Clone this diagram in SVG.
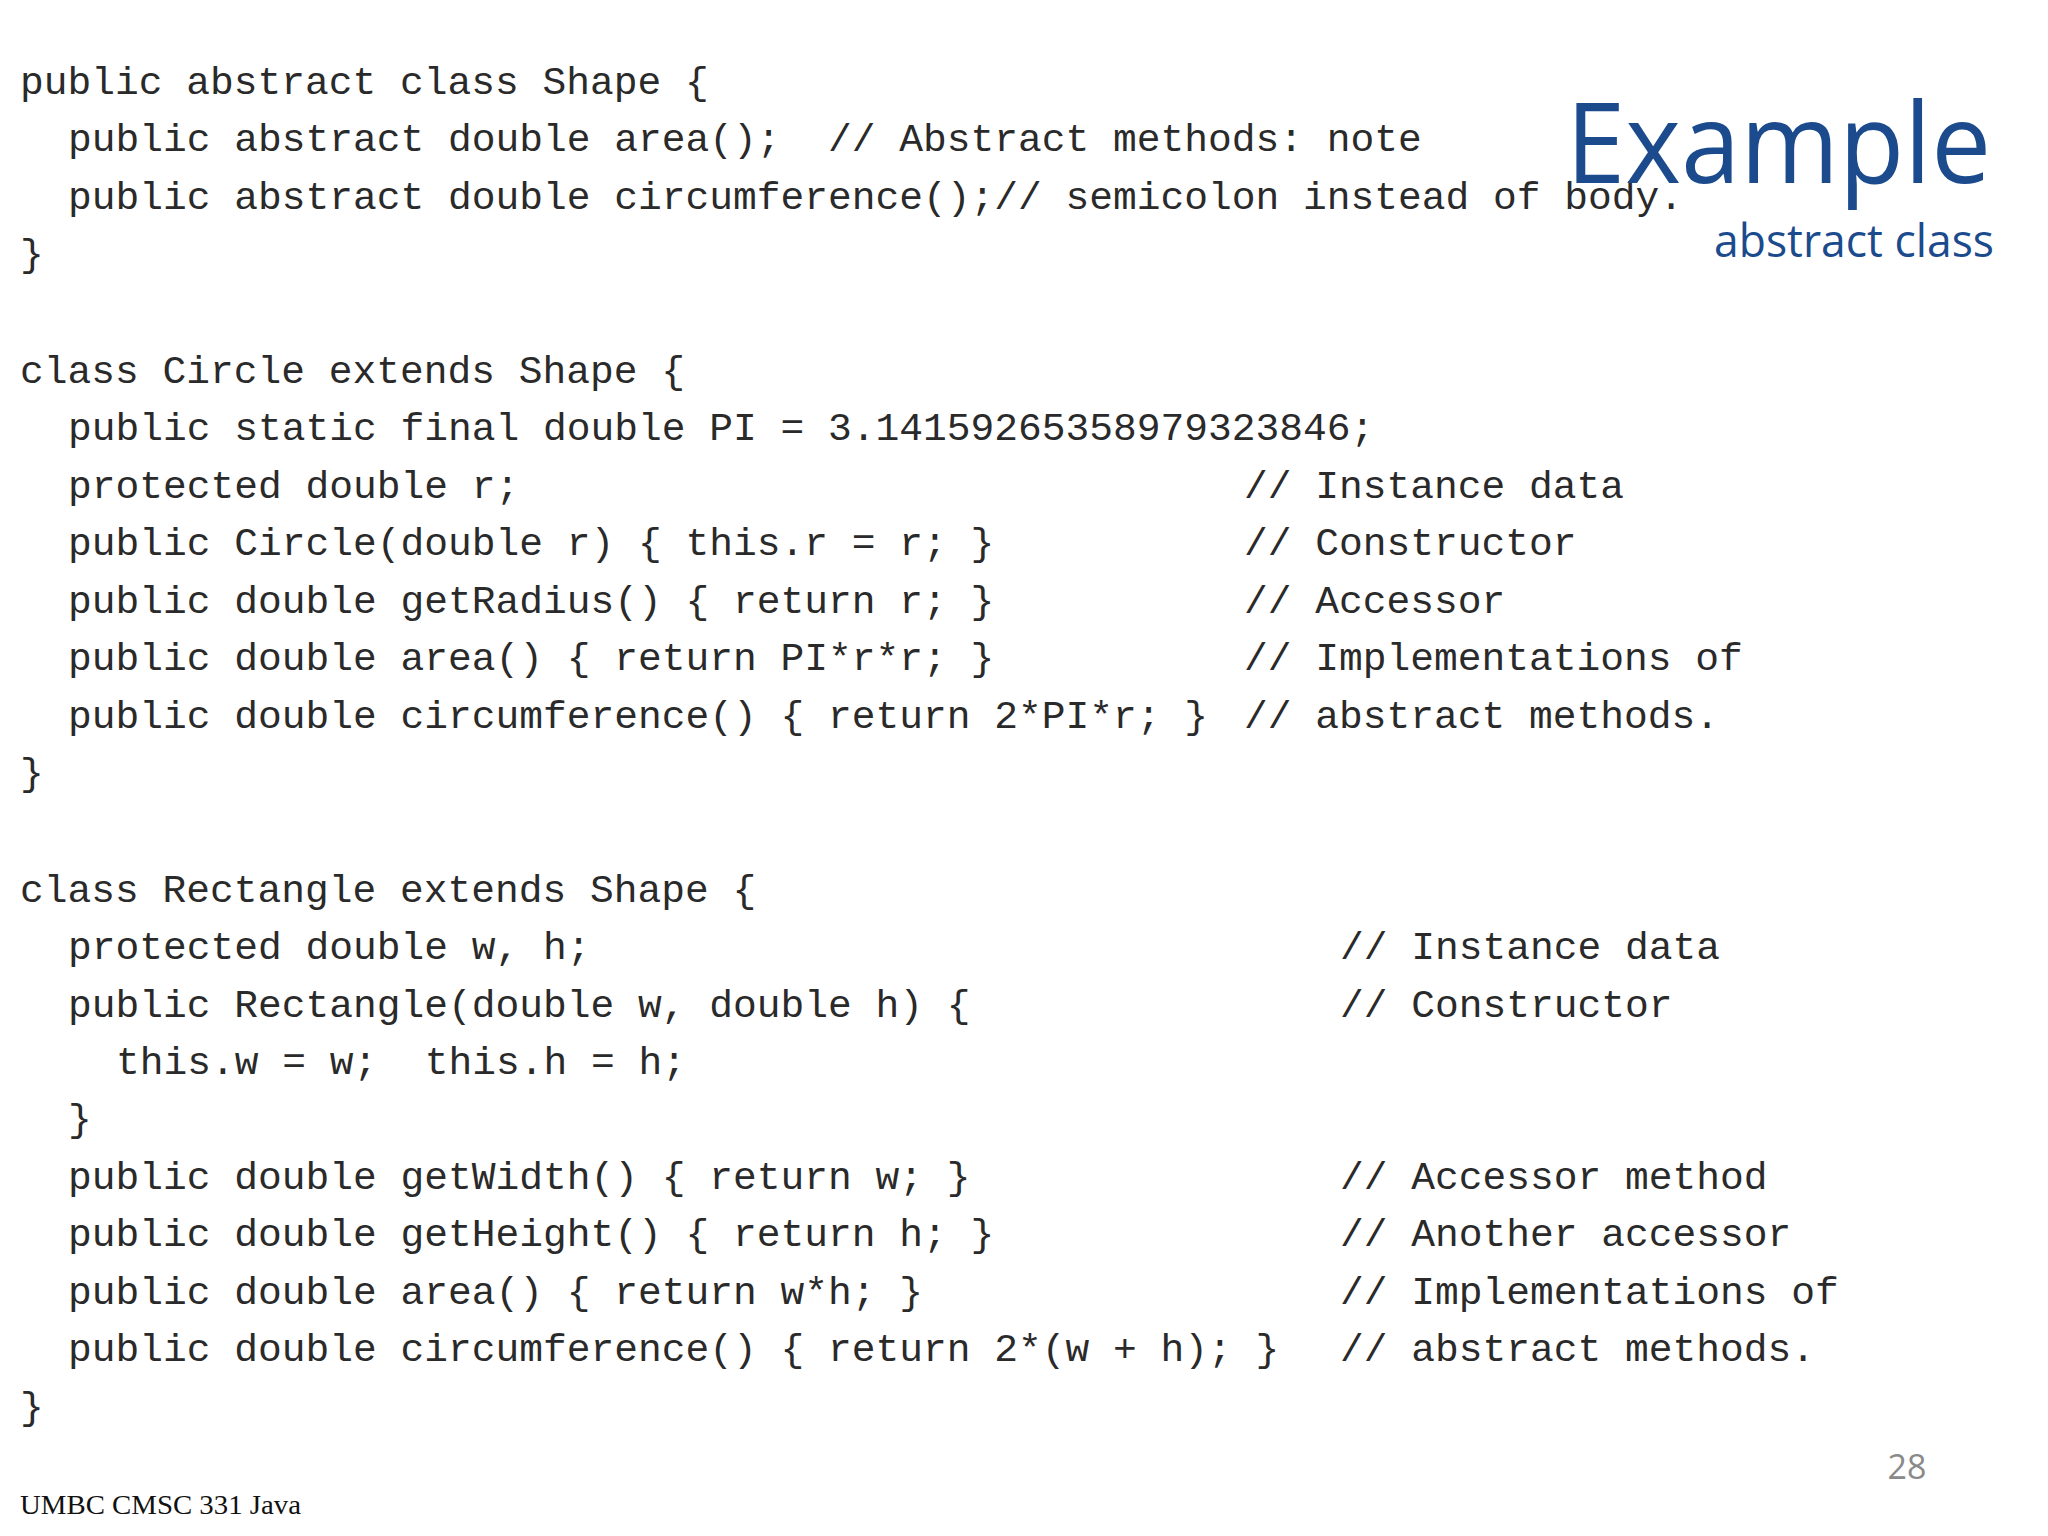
<svg xmlns="http://www.w3.org/2000/svg" width="2048" height="1536" viewBox="0 0 2048 1536" xml:space="preserve">
<style>
.c{font-family:"Liberation Mono","Courier New",monospace;font-size:39.6px;fill:#2a2a2a;white-space:pre}
.t{font-family:"Open Sans",sans-serif;fill:#1c4b8d}
</style>
<rect width="2048" height="1536" fill="#fff"/>
<g id="code" class="c">
<text x="20" y="94">public abstract class Shape {</text>
<text x="68" y="151">public abstract double area();&#160;&#160;// Abstract methods: note</text>
<text x="68" y="209">public abstract double circumference();// semicolon instead of body.</text>
<text x="20" y="266">}</text>
<text x="20" y="383">class Circle extends Shape {</text>
<text x="68" y="440">public static final double PI = 3.14159265358979323846;</text>
<text x="68" y="498">protected double r;</text>
<text x="68" y="555">public Circle(double r) { this.r = r; }</text>
<text x="68" y="613">public double getRadius() { return r; }</text>
<text x="68" y="670">public double area() { return PI*r*r; }</text>
<text x="68" y="728">public double circumference() { return 2*PI*r; }</text>
<text x="1244" y="498">// Instance data</text>
<text x="1244" y="555">// Constructor</text>
<text x="1244" y="613">// Accessor</text>
<text x="1244" y="670">// Implementations of</text>
<text x="1244" y="728">// abstract methods.</text>
<text x="20" y="785">}</text>
<text x="20" y="902">class Rectangle extends Shape {</text>
<text x="68" y="959">protected double w, h;</text>
<text x="68" y="1017">public Rectangle(double w, double h) {</text>
<text x="116" y="1074">this.w = w;&#160;&#160;this.h = h;</text>
<text x="68" y="1131">}</text>
<text x="68" y="1189">public double getWidth() { return w; }</text>
<text x="68" y="1246">public double getHeight() { return h; }</text>
<text x="68" y="1304">public double area() { return w*h; }</text>
<text x="68" y="1361">public double circumference() { return 2*(w + h); }</text>
<text x="1340" y="959">// Instance data</text>
<text x="1340" y="1017">// Constructor</text>
<text x="1340" y="1189">// Accessor method</text>
<text x="1340" y="1246">// Another accessor</text>
<text x="1340" y="1304">// Implementations of</text>
<text x="1340" y="1361">// abstract methods.</text>
<text x="20" y="1419">}</text>
</g>
<g id="title">
<text class="t" x="1991" y="183" text-anchor="end" font-size="112" textLength="425" lengthAdjust="spacingAndGlyphs">Example</text>
<text class="t" x="1994" y="257" text-anchor="end" font-size="46" textLength="280" lengthAdjust="spacingAndGlyphs">abstract class</text>
</g>
<text x="1907" y="1479" text-anchor="middle" font-family="Open Sans, sans-serif" font-size="34" fill="#8a8a8a">28</text>
<text x="20" y="1514" font-family="Liberation Serif, serif" font-size="28" fill="#111" textLength="281" lengthAdjust="spacingAndGlyphs">UMBC CMSC 331 Java</text>
</svg>
